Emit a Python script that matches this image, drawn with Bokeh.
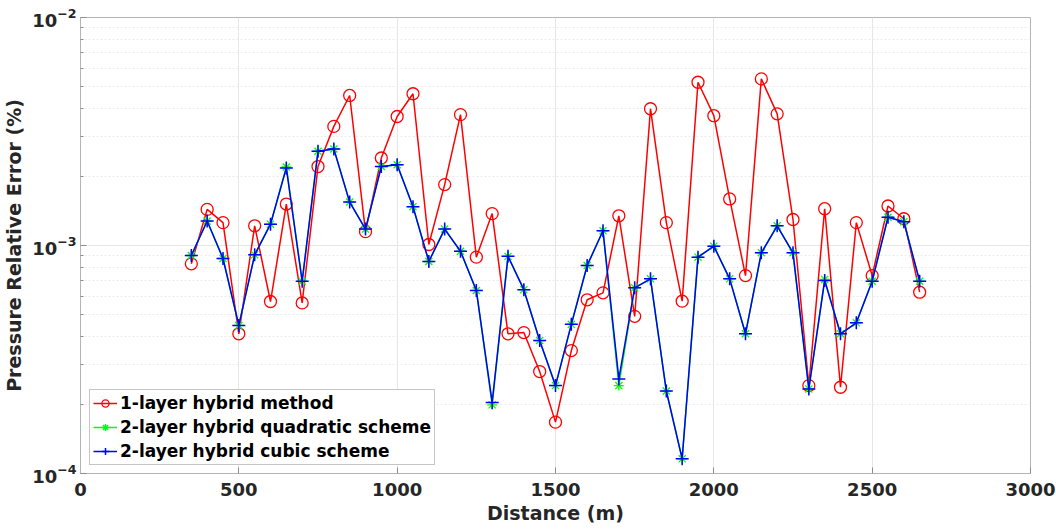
from bokeh.plotting import figure
from bokeh.models import FixedTicker, Range1d, Legend
from bokeh.embed import file_html
from bokeh.resources import INLINE

distance = list(range(350, 2700, 50))

one_layer = [8.31e-4, 1.44e-3, 1.26e-3, 4.10e-4, 1.22e-3, 5.68e-4, 1.52e-3, 5.60e-4,
             2.22e-3, 3.33e-3, 4.55e-3, 1.15e-3, 2.42e-3, 3.68e-3, 4.63e-3, 1.01e-3,
             1.85e-3, 3.75e-3, 8.89e-4, 1.38e-3, 4.10e-4, 4.15e-4, 2.80e-4, 1.68e-4,
             3.46e-4, 5.78e-4, 6.20e-4, 1.35e-3, 4.89e-4, 3.98e-3, 1.26e-3, 5.70e-4,
             5.20e-3, 3.71e-3, 1.60e-3, 7.38e-4, 5.38e-3, 3.78e-3, 1.30e-3, 2.43e-4,
             1.45e-3, 2.39e-4, 1.26e-3, 7.38e-4, 1.49e-3, 1.31e-3, 6.24e-4]

quadratic = [9.04e-4, 1.28e-3, 8.77e-4, 4.46e-4, 9.10e-4, 1.24e-3, 2.21e-3, 6.97e-4,
             2.59e-3, 2.65e-3, 1.55e-3, 1.18e-3, 2.22e-3, 2.26e-3, 1.48e-3, 8.51e-4,
             1.18e-3, 9.44e-4, 6.35e-4, 2.00e-4, 8.96e-4, 6.40e-4, 3.83e-4, 2.43e-4,
             4.51e-4, 8.17e-4, 1.16e-3, 2.43e-4, 6.52e-4, 7.14e-4, 2.30e-4, 1.16e-4,
             8.89e-4, 9.93e-4, 7.14e-4, 4.10e-4, 9.29e-4, 1.22e-3, 9.29e-4, 2.35e-4,
             7.10e-4, 4.10e-4, 4.58e-4, 6.97e-4, 1.33e-3, 1.27e-3, 6.97e-4]

cubic = [9.04e-4, 1.28e-3, 8.77e-4, 4.46e-4, 9.10e-4, 1.24e-3, 2.19e-3, 6.97e-4,
         2.59e-3, 2.65e-3, 1.55e-3, 1.18e-3, 2.22e-3, 2.26e-3, 1.48e-3, 8.51e-4,
         1.18e-3, 9.44e-4, 6.35e-4, 2.05e-4, 8.96e-4, 6.40e-4, 3.83e-4, 2.43e-4,
         4.51e-4, 8.17e-4, 1.16e-3, 2.60e-4, 6.52e-4, 7.14e-4, 2.30e-4, 1.16e-4,
         8.89e-4, 9.93e-4, 7.14e-4, 4.10e-4, 9.29e-4, 1.22e-3, 9.29e-4, 2.35e-4,
         7.02e-4, 4.10e-4, 4.58e-4, 6.97e-4, 1.33e-3, 1.27e-3, 6.97e-4]

x_ticks = [0, 500, 1000, 1500, 2000, 2500, 3000]
y_ticks = [1e-4, 1e-3, 1e-2]

FONT = "DejaVu Sans"
TXT = "#262626"

p = figure(width=1056, height=529, y_axis_type="log", output_backend="svg",
           toolbar_location=None, x_range=Range1d(0, 3000), y_range=Range1d(1e-4, 1e-2),
           min_border_left=79, min_border_right=27, min_border_top=17, min_border_bottom=56)
p.frame_width = 950
p.frame_height = 456

r1l = p.line(distance, one_layer, line_color="red", line_width=1.5)
r1m = p.scatter(distance, one_layer, marker="circle", size=12, line_color="red",
                fill_color=None, line_width=1.3)
r2l = p.line(distance, quadratic, line_color="#00ff00", line_width=1.5)
r2m = p.scatter(distance, quadratic, marker="asterisk", size=10, line_color="#00ff00",
                line_width=1.3)
r3l = p.line(distance, cubic, line_color="blue", line_width=1.5)
r3m = p.scatter(distance, cubic, marker="cross", size=13, line_color="blue",
                line_width=1.5)

legend = Legend(items=[("1-layer hybrid method", [r1l, r1m]),
                       ("2-layer hybrid quadratic scheme", [r2l, r2m]),
                       ("2-layer hybrid cubic scheme", [r3l, r3m])],
                location=(9, 8))
legend.label_text_font = FONT
legend.label_text_font_style = "bold"
legend.label_text_font_size = "17px"
legend.label_text_color = "black"
legend.glyph_width = 24
legend.glyph_height = 18
legend.spacing = 4
legend.padding = 3
legend.margin = 0
legend.label_standoff = 3
legend.border_line_color = "#8c8c8c"
legend.border_line_width = 1
legend.background_fill_alpha = 1.0
p.add_layout(legend, "center")

p.xaxis.ticker = FixedTicker(ticks=x_ticks)
p.yaxis.ticker = FixedTicker(ticks=y_ticks, minor_ticks=[a * 10.0 ** e for e in (-4, -3) for a in range(2, 10)])

for ax in (p.xaxis, p.yaxis):
    ax.major_label_text_font = FONT
    ax.major_label_text_font_style = "bold"
    ax.major_label_text_font_size = "18px"
    ax.major_label_text_color = TXT
    ax.axis_label_text_font = FONT
    ax.axis_label_text_font_style = "bold"
    ax.axis_label_text_font_size = "19px"
    ax.axis_label_text_color = TXT
    ax.axis_line_color = "#b4b4b4"
    ax.major_tick_line_color = "#8c8c8c"
    ax.minor_tick_line_color = "#8c8c8c"
    ax.major_tick_in = 6
    ax.major_tick_out = 0
    ax.minor_tick_in = 3
    ax.minor_tick_out = 0

p.xaxis.axis_label = "Distance (m)"
p.yaxis.axis_label = "Pressure Relative Error (%)"
p.xaxis.axis_label_standoff = 3
p.yaxis.axis_label_standoff = 4
p.xaxis.major_label_standoff = 9
p.yaxis.major_label_standoff = 4

p.xgrid.grid_line_color = "#e6e6e6"
p.ygrid.grid_line_color = "#e6e6e6"
p.ygrid.minor_grid_line_color = "#ebebeb"
p.ygrid.minor_grid_line_dash = "2 2"

p.outline_line_color = "#b4b4b4"
p.background_fill_color = "white"
p.border_fill_color = "white"

open("out.html", "w").write(file_html(p, INLINE))
